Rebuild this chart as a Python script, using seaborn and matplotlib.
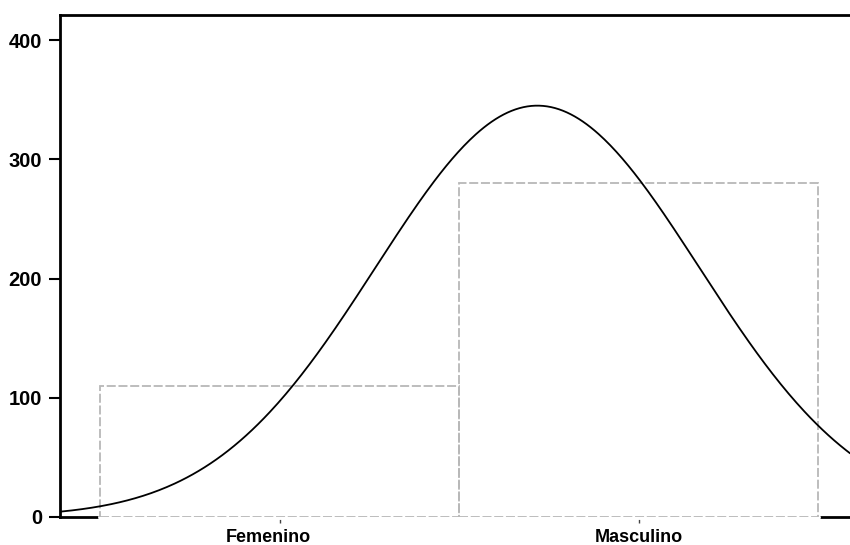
import numpy as np
import pandas as pd
import matplotlib
matplotlib.use("Agg")
import matplotlib.pyplot as plt
import matplotlib.transforms as mtransforms
import seaborn as sns

# Data
categories = ["Femenino", "Masculino"]
counts = [110, 280]
# Normal curve fitted by the original software (mean/sd of coded sex, positions 0/1)
curve_mean = 0.718
curve_sd = 0.451
y_ticks = [0, 100, 200, 300, 400]

sns.set_theme(style="white")
plt.rcParams["font.family"] = ["Liberation Sans", "DejaVu Sans"]

fig = plt.figure(figsize=(8.5, 5.45), dpi=100)
ax = fig.add_axes([60 / 850, 1 - 517 / 545, 1 - 60 / 850, (517 - 15) / 545])

XMIN, XMAX = -0.612, 1.589

df = pd.DataFrame({"sex": categories, "n": counts})
sns.barplot(data=df, x="sex", y="n", width=1.0, fill=False, ax=ax,
            edgecolor="#b8b8b8", linewidth=1.3, linestyle=(0, (5, 1.5)),
            errorbar=None, zorder=3)

ax.set_xlim(XMIN, XMAX)
ax.set_ylim(0, 421)

# normal curve
xs = np.linspace(XMIN, XMAX, 400)
total = sum(counts)
ys = total * 1.0 / (curve_sd * np.sqrt(2 * np.pi)) * np.exp(-0.5 * ((xs - curve_mean) / curve_sd) ** 2)
sns.lineplot(x=xs, y=ys, ax=ax, color="black", linewidth=1.3, zorder=4)

for s in ["left", "top", "bottom"]:
    ax.spines[s].set_visible(True)
    ax.spines[s].set_color("black")
    ax.spines[s].set_linewidth(2.0)
ax.spines["right"].set_visible(False)
# bars' bottoms replace the black axis line under them
ax.axhline(0, xmin=(-0.5 - XMIN) / (XMAX - XMIN), xmax=(1.5 - XMIN) / (XMAX - XMIN),
           color="white", linewidth=3.5, zorder=2.8, clip_on=False)

ax.set_yticks(y_ticks)
ax.set_yticklabels([str(v) for v in y_ticks])
ax.tick_params(axis="y", left=True, length=8, width=1.5, pad=5, labelsize=14.5,
               color="black", labelcolor="black")
ax.tick_params(axis="x", bottom=True, length=4, width=1, pad=5, labelsize=13,
               color="#444444", labelcolor="black")
for lab in ax.get_xticklabels() + ax.get_yticklabels():
    lab.set_fontweight("bold")
# the scanned original shows the first category label slightly left of its tick
first = ax.get_xticklabels()[0]
first.set_transform(first.get_transform() +
                    mtransforms.ScaledTranslation(-0.11, 0, fig.dpi_scale_trans))
ax.set_xlabel("")
ax.set_ylabel("")
ax.grid(False)

fig.savefig("out.png", dpi=100)
